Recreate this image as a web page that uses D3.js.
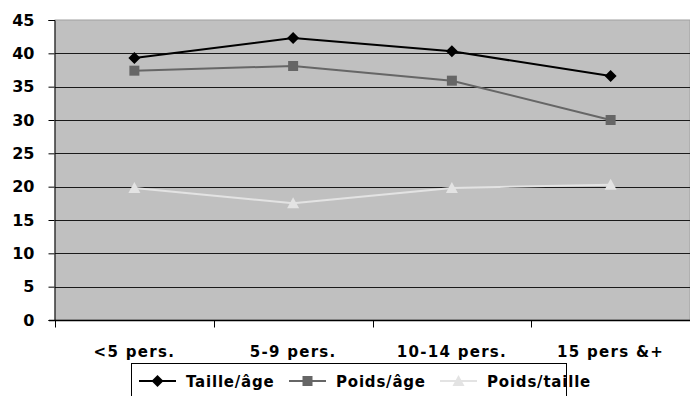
<!DOCTYPE html>
<html>
<head>
<meta charset="utf-8">
<script src="https://cdn.jsdelivr.net/npm/d3@7"></script>
<style>
    body { margin: 0; background: #fff; }
    svg text { font-family: "DejaVu Sans", Verdana, sans-serif; font-weight: bold; }
</style>
</head>
<body>
<div id="chart"></div>
<script>
var categories = ["<5 pers.", "5-9 pers.", "10-14 pers.", "15 pers &+"];
var seriesNames = ["Taille/âge", "Poids/âge", "Poids/taille"];
var tailleAge = [39.3, 42.3, 40.3, 36.6];
var poidsAge = [37.4, 38.1, 35.9, 30.0];
var poidsTaille = [19.8, 17.5, 19.8, 20.3];
var yTicks = [0, 5, 10, 15, 20, 25, 30, 35, 40, 45];

var WIDTH = 690, HEIGHT = 396;
var margin = {top: 20, right: 0, bottom: 76, left: 55};

var series = [
    {"name": seriesNames[0], "values": tailleAge, "color": "#000000", "marker": "diamond"},
    {"name": seriesNames[1], "values": poidsAge, "color": "#666666", "marker": "square"},
    {"name": seriesNames[2], "values": poidsTaille, "color": "#e3e3e3", "marker": "triangle"}
];

var svg = d3.select("#chart").append("svg")
    .attr("width", WIDTH)
    .attr("height", HEIGHT);

var x = d3.scaleBand()
    .domain(categories)
    .range([margin.left, WIDTH - margin.right])
    .padding(0);

var y = d3.scaleLinear()
    .domain([0, 45])
    .range([HEIGHT - margin.bottom, margin.top]);

// plot background
svg.append("rect")
    .attr("x", margin.left)
    .attr("y", margin.top)
    .attr("width", WIDTH - margin.right - margin.left)
    .attr("height", y(0) - margin.top)
    .attr("fill", "#c0c0c0")
    .attr("stroke", "#a0a0a0");

// gridlines
svg.append("g")
    .selectAll("line")
    .data(yTicks.filter(function(d) { return d > 0 && d < 45; }))
    .enter().append("line")
    .attr("x1", margin.left)
    .attr("x2", WIDTH - margin.right)
    .attr("y1", function(d) { return Math.round(y(d)) + 0.5; })
    .attr("y2", function(d) { return Math.round(y(d)) + 0.5; })
    .attr("stroke", "#1a1a1a")
    .attr("stroke-width", 1);

// y axis
var yAxis = svg.append("g")
    .attr("transform", "translate(" + (margin.left - 0.5) + ",0)")
    .call(d3.axisLeft(y).tickValues(yTicks).tickSize(6).tickPadding(14));
yAxis.select(".domain").attr("stroke", "#000");
yAxis.selectAll(".tick line").attr("stroke", "#000");
yAxis.selectAll("text")
    .attr("font-size", "16px")
    .attr("font-family", "DejaVu Sans")
    .attr("font-weight", "bold")
    .attr("fill", "#000");

// x axis
var bottomY = Math.round(y(0)) + 0.5;
svg.append("line")
    .attr("x1", margin.left - 6)
    .attr("x2", WIDTH - margin.right)
    .attr("y1", bottomY)
    .attr("y2", bottomY)
    .attr("stroke", "#000")
    .attr("stroke-width", 1.5);

svg.append("g")
    .selectAll("line")
    .data(categories)
    .enter().append("line")
    .attr("x1", function(d) { return Math.round(x(d)) + 0.5; })
    .attr("x2", function(d) { return Math.round(x(d)) + 0.5; })
    .attr("y1", bottomY)
    .attr("y2", bottomY + 7)
    .attr("stroke", "#000");

svg.append("g")
    .selectAll("text")
    .data(categories)
    .enter().append("text")
    .attr("x", function(d) { return x(d) + x.bandwidth() / 2; })
    .attr("y", 357)
    .attr("text-anchor", "middle")
    .attr("font-size", "15px")
    .attr("letter-spacing", "1.3px")
    .attr("fill", "#000")
    .text(function(d) { return d; });

// marker shapes
function drawMarker(g, type, color, cx, cy) {
    if (type == "diamond") {
        g.append("path")
            .attr("d", "M" + cx + "," + (cy - 6) + "L" + (cx + 6) + "," + cy + "L" + cx + "," + (cy + 6) + "L" + (cx - 6) + "," + cy + "Z")
            .attr("fill", color);
    } else if (type == "square") {
        g.append("rect")
            .attr("x", cx - 5).attr("y", cy - 5)
            .attr("width", 10).attr("height", 10)
            .attr("fill", color);
    } else {
        g.append("path")
            .attr("d", "M" + cx + "," + (cy - 6) + "L" + (cx + 6) + "," + (cy + 5) + "L" + (cx - 6) + "," + (cy + 5) + "Z")
            .attr("fill", color);
    }
}

var line = d3.line()
    .x(function(d, i) { return x(categories[i]) + x.bandwidth() / 2; })
    .y(function(d) { return y(d); });

series.forEach(function(s) {
    var g = svg.append("g");
    g.append("path")
        .datum(s.values)
        .attr("d", line)
        .attr("fill", "none")
        .attr("stroke", s.color)
        .attr("stroke-width", 2);
    s.values.forEach(function(v, i) {
        drawMarker(g, s.marker, s.color, x(categories[i]) + x.bandwidth() / 2, y(v));
    });
});

// legend
var legend = svg.append("g");
legend.append("rect")
    .attr("x", 131.5)
    .attr("y", 363.5)
    .attr("width", 435)
    .attr("height", 40)
    .attr("fill", "#fff")
    .attr("stroke", "#000");

var legendX = [139, 289, 440];
series.forEach(function(s, i) {
    var lx = legendX[i];
    var ly = 381;
    legend.append("line")
        .attr("x1", lx).attr("x2", lx + 37)
        .attr("y1", ly).attr("y2", ly)
        .attr("stroke", s.color)
        .attr("stroke-width", 2);
    drawMarker(legend, s.marker, s.color, lx + 18.5, ly);
    legend.append("text")
        .attr("x", lx + 47)
        .attr("y", ly + 6)
        .attr("font-size", "15px")
        .attr("letter-spacing", "0.8px")
        .attr("fill", "#000")
        .text(s.name);
});
</script>
</body>
</html>
